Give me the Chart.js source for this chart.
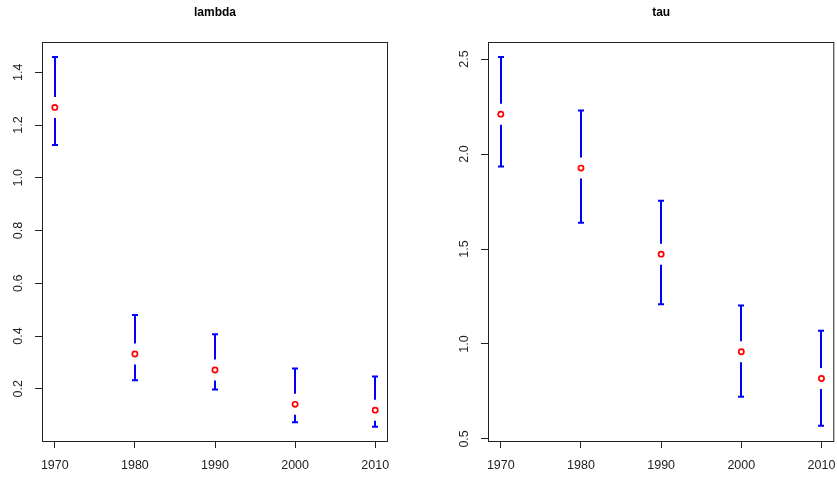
<!DOCTYPE html>
<html>
<head>
<meta charset="utf-8">
<script src="https://cdn.jsdelivr.net/npm/chart.js@4/dist/chart.umd.min.js"></script>
<style>
    html, body { margin: 0; background: #fff; overflow: hidden; }
    .panel { position: absolute; top: 0; }
    canvas { display: block; }
</style>
</head>
<body>
<div class="panel" style="left:0px"><canvas id="lambdaChart" width="418" height="478"></canvas></div>
<div class="panel" style="left:418px"><canvas id="tauChart" width="422" height="478"></canvas></div>
<script>
const years = [1970, 1980, 1990, 2000, 2010];

const lambdaEst  = [1.267, 0.332, 0.271, 0.141, 0.119];
const lambdaLow  = [1.124, 0.232, 0.197, 0.073, 0.056];
const lambdaHigh = [1.458, 0.480, 0.407, 0.277, 0.247];

const tauEst  = [2.210, 1.926, 1.473, 0.959, 0.818];
const tauLow  = [1.935, 1.638, 1.209, 0.722, 0.569];
const tauHigh = [2.511, 2.229, 1.754, 1.202, 1.070];

const lambdaTicks = [0.2, 0.4, 0.6, 0.8, 1.0, 1.2, 1.4];
const tauTicks = [0.5, 1.0, 1.5, 2.0, 2.5];

const fontFamily = '"Liberation Sans", Arial, sans-serif';
const textColor = '#222';

// error bars with a gap round the point, like plotCI
const errorBars = {
    id: 'errorBars',
    beforeDatasetsDraw(chart, args, opts) {
        const ctx = chart.ctx;
        const xs = chart.scales.x, ys = chart.scales.y;
        const gap = 10.5, cap = 3;
        ctx.save();
        ctx.strokeStyle = '#0000ff';
        ctx.lineWidth = 2;
        ctx.lineCap = 'butt';
        opts.low.forEach((lo, i) => {
            const x = Math.round(xs.getPixelForValue(years[i]));
            const yHi = ys.getPixelForValue(opts.high[i]);
            const yLo = ys.getPixelForValue(lo);
            const yPt = ys.getPixelForValue(opts.est[i]);
            ctx.beginPath();
            if (yPt - gap > yHi) { ctx.moveTo(x, yHi); ctx.lineTo(x, yPt - gap); }
            if (yPt + gap < yLo) { ctx.moveTo(x, yPt + gap); ctx.lineTo(x, yLo); }
            ctx.moveTo(x - cap, yHi); ctx.lineTo(x + cap, yHi);
            ctx.moveTo(x - cap, yLo); ctx.lineTo(x + cap, yLo);
            ctx.stroke();
        });
        ctx.restore();
    },
    afterDraw(chart, args, opts) {
        const ctx = chart.ctx;
        const a = chart.chartArea;
        const ys = chart.scales.y;
        ctx.save();
        // box
        ctx.strokeStyle = '#222';
        ctx.lineWidth = 1;
        ctx.strokeRect(a.left + 0.5, a.top + 0.5, a.right - a.left - 1, a.bottom - a.top);
        // rotated y tick labels
        ctx.fillStyle = textColor;
        ctx.font = '12.5px ' + fontFamily;
        ctx.textAlign = 'center';
        ctx.textBaseline = 'middle';
        ys.ticks.forEach(t => {
            const y = ys.getPixelForValue(t.value);
            ctx.save();
            ctx.translate(a.left - 23.5, y);
            ctx.rotate(-Math.PI / 2);
            ctx.fillText(t.value.toFixed(1), 0, 0);
            ctx.restore();
        });
        // title
        ctx.font = 'bold 12px ' + fontFamily;
        ctx.textBaseline = 'alphabetic';
        ctx.fillStyle = '#000';
        ctx.fillText(opts.title, (a.left + a.right) / 2, 16);
        ctx.restore();
    }
};

function makeChart(id, est, low, high, yTicks, yMin, yMax, title, leftW, rightPad) {
    const pts = years.map((yr, i) => ({x: yr, y: est[i]}));
    return new Chart(document.getElementById(id), {
        type: 'scatter',
        data: {
            datasets: [{
                data: pts,
                pointStyle: 'circle',
                pointRadius: 2.6,
                pointBorderWidth: 1.7,
                pointBorderColor: '#ff0000',
                pointBackgroundColor: '#ffffff',
                showLine: false
            }]
        },
        options: {
            responsive: false,
            animation: false,
            layout: { padding: { top: 42, right: rightPad, left: 0, bottom: 0 } },
            plugins: {
                legend: { display: false },
                tooltip: { enabled: false },
                errorBars: { est: est, low: low, high: high, title: title }
            },
            scales: {
                x: {
                    type: 'linear',
                    min: 1968.4,
                    max: 2011.6,
                    afterBuildTicks: s => { s.ticks = years.map(v => ({value: v})); },
                    afterFit: s => { s.height = 37; s.paddingLeft = 0; s.paddingRight = 0; },
                    ticks: {
                        autoSkip: false,
                        maxRotation: 0,
                        padding: 10,
                        color: textColor,
                        font: { family: fontFamily, size: 12.5 },
                        callback: v => String(v)
                    },
                    grid: { drawOnChartArea: false, tickLength: 7, color: '#222' },
                    border: { display: false }
                },
                y: {
                    type: 'linear',
                    min: yMin,
                    max: yMax,
                    afterBuildTicks: s => { s.ticks = yTicks.map(v => ({value: v})); },
                    afterFit: s => { s.width = leftW; s.paddingTop = 0; s.paddingBottom = 0; },
                    ticks: { display: false },
                    grid: { drawOnChartArea: false, tickLength: 7, color: '#222' },
                    border: { display: false }
                }
            }
        },
        plugins: [errorBars]
    });
}

makeChart('lambdaChart', lambdaEst, lambdaLow, lambdaHigh, lambdaTicks, 0.002, 1.515, 'lambda', 42, 30);
makeChart('tauChart', tauEst, tauLow, tauHigh, tauTicks, 0.489, 2.590, 'tau', 70, 3);
</script>
</body>
</html>
